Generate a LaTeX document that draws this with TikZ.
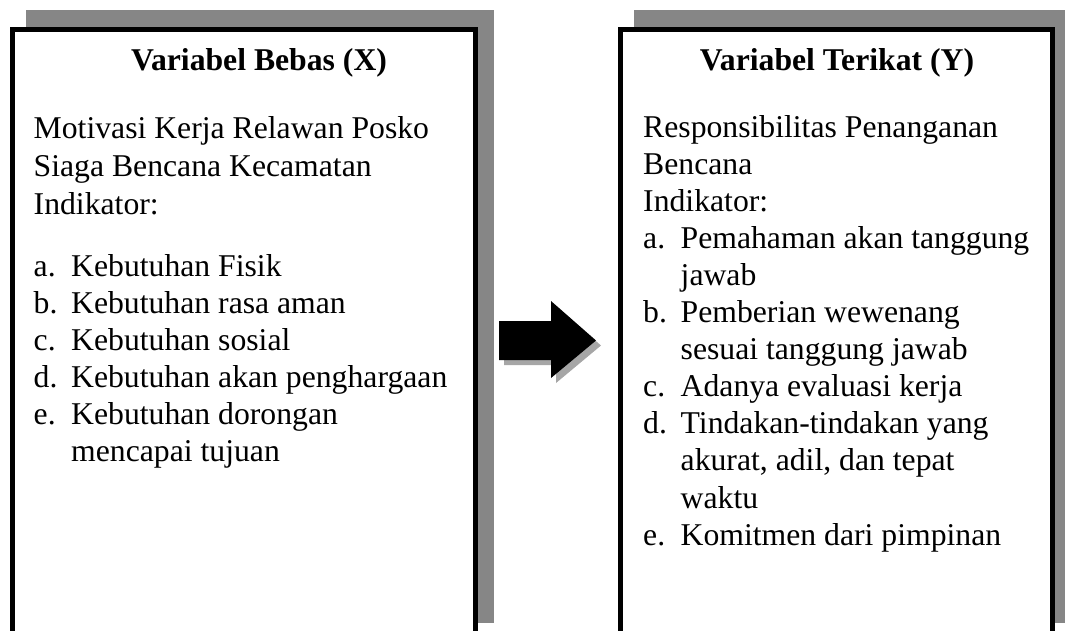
\documentclass[tikz,border=0pt]{standalone}
\usepackage{fontspec}
\setmainfont{Liberation Serif}
\usepackage{xcolor}

\definecolor{shadowgray}{RGB}{134,134,134}
\definecolor{arrowgray}{RGB}{166,166,166}

\newcommand{\butir}[1]{\makebox[37.5pt][l]{#1}}

\tikzset{
  panel/.style={draw=black, line width=4.7pt, fill=white},
  panelshadow/.style={fill=shadowgray},
  judul/.style={font=\fontsize{31.7}{37}\selectfont\bfseries, anchor=base, inner sep=0pt},
  txt/.style={font=\fontsize{31.7}{37}\selectfont, anchor=base west, inner sep=0pt},
}

\begin{document}
\begin{tikzpicture}[x=1pt, y=-1pt]
        \useasboundingbox (0,0) rectangle (1065,630);
        \clip (0,0) rectangle (1065,630);

        % kotak kiri
        \fill[panelshadow] (26,10) rectangle (494,623);
        \draw[panel] (12.4,29.2) rectangle (475.6,660);

        % kotak kanan
        \fill[panelshadow] (634,10) rectangle (1071,623);
        \draw[panel] (620.8,29.2) rectangle (1052.6,660);

        % panah
        \fill[arrowgray] (504,326) -- (556,326) -- (556,306) -- (601,345.5) -- (556,383) -- (556,365) -- (504,365) -- cycle;
        \fill[black] (499,321) -- (551,321) -- (551,301) -- (596,340.5) -- (551,378) -- (551,360) -- (499,360) -- cycle;

        \node[judul] (judulX) at (259,70) {Variabel Bebas (X)};
        \node[txt] (motivasi) at (33.5,138) {Motivasi Kerja Relawan Posko};
        \node[txt] (siaga) at (33.5,176) {Siaga Bencana Kecamatan};
        \node[txt] (indikatorX) at (33.5,214) {Indikator:};
        \node[txt] (xa) at (33.5,276) {\butir{a.}Kebutuhan Fisik};
        \node[txt] (xb) at (33.5,313) {\butir{b.}Kebutuhan rasa aman};
        \node[txt] (xc) at (33.5,350) {\butir{c.}Kebutuhan sosial};
        \node[txt] (xd) at (33.5,387) {\butir{d.}Kebutuhan akan penghargaan};
        \node[txt] (xe) at (33.5,424) {\butir{e.}Kebutuhan dorongan};
        \node[txt] (xe2) at (71,461) {mencapai tujuan};

        \node[judul] (judulY) at (837,70) {Variabel Terikat (Y)};
        \node[txt] (respon) at (643,137) {Responsibilitas Penanganan};
        \node[txt] (bencana) at (643,174.1) {Bencana};
        \node[txt] (indikatorY) at (643,211.2) {Indikator:};
        \node[txt] (ya) at (643,248.3) {\butir{a.}Pemahaman akan tanggung};
        \node[txt] (ya2) at (680.5,285.4) {jawab};
        \node[txt] (yb) at (643,322.5) {\butir{b.}Pemberian wewenang};
        \node[txt] (yb2) at (680.5,359.6) {sesuai tanggung jawab};
        \node[txt] (yc) at (643,396.7) {\butir{c.}Adanya evaluasi kerja};
        \node[txt] (yd) at (643,433.8) {\butir{d.}Tindakan-tindakan yang};
        \node[txt] (yd2) at (680.5,470.9) {akurat, adil, dan tepat};
        \node[txt] (yd3) at (680.5,508) {waktu};
        \node[txt] (ye) at (643,545.1) {\butir{e.}Komitmen dari pimpinan};

    \end{tikzpicture}
\end{document}
